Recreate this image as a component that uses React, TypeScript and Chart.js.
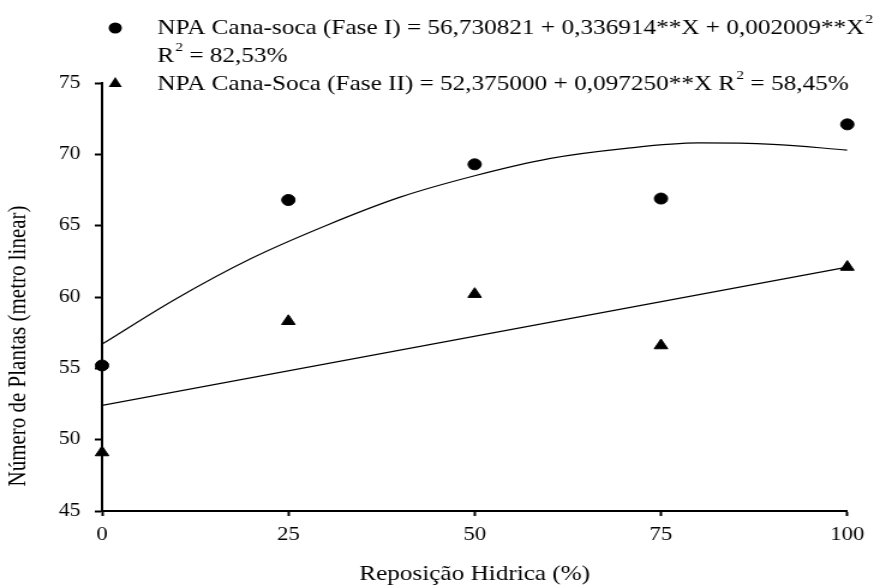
import React, { useEffect, useRef } from "react";
import { Chart, registerables } from "chart.js";

Chart.register(...registerables);

// ---- data ----
const xLevels = [0, 25, 50, 75, 100];
const faseI = [55.2, 66.8, 69.3, 66.9, 72.1];
const faseII = [49.1, 58.3, 60.2, 56.6, 62.1];
const curveX = [0, 10, 20, 30, 40, 50, 60, 70, 80, 90, 100];
const curveI = [56.7, 59.9, 62.7, 65.0, 67.0, 68.5, 69.7, 70.4, 70.8, 70.7, 70.3];
const lineX = [0, 100];
const lineII = [52.4, 62.1];
const xTicks = [0, 25, 50, 75, 100];
const yTicks = [45, 50, 55, 60, 65, 70, 75];

const legendLine1a = "NPA Cana-soca (Fase I) = 56,730821 + 0,336914**X + 0,002009**X";
const legendLine2a = "R";
const legendLine2b = " = 82,53%";
const legendLine3a = "NPA Cana-Soca (Fase II) = 52,375000 + 0,097250**X R";
const legendLine3b = " = 58,45%";
const yTitle = "Número de Plantas (metro linear)";
const xTitle = "Reposição Hidrica (%)";

const FONT = '"Liberation Serif", "Times New Roman", serif';
const PAGE_W = 874;
const PAGE_H = 587;
const CANVAS_W = 728; // drawn narrower, then stretched horizontally like the reference
const SX = PAGE_W / CANVAS_W;

const overlayPlugin = {
  id: "overlay",
  afterDraw(chart: any) {
    const ctx = chart.ctx as CanvasRenderingContext2D;
    ctx.save();
    ctx.fillStyle = "#000";
    ctx.textBaseline = "middle";
    ctx.textAlign = "left";
    const fs = 21;
    const main = `${fs}px ${FONT}`;
    const sup = `${Math.round(fs * 0.62)}px ${FONT}`;
    const tx = 131;
    const drawWithSup = (a: string, b: string, y: number) => {
      ctx.font = main;
      ctx.fillText(a, tx, y);
      const w = ctx.measureText(a).width;
      ctx.font = sup;
      ctx.fillText("2", tx + w + 1, y - 8);
      const ws = ctx.measureText("2").width;
      if (b) {
        ctx.font = main;
        ctx.fillText(b, tx + w + ws + 1, y);
      }
    };
    // legend markers
    ctx.beginPath();
    ctx.arc(96, 28, 5.5, 0, Math.PI * 2);
    ctx.fill();
    ctx.beginPath();
    ctx.moveTo(96, 77);
    ctx.lineTo(101.5, 87);
    ctx.lineTo(90.5, 87);
    ctx.closePath();
    ctx.fill();
    drawWithSup(legendLine1a, "", 28);
    drawWithSup(legendLine2a, legendLine2b, 56);
    drawWithSup(legendLine3a, legendLine3b, 84);
    // y title
    ctx.translate(15, 346);
    ctx.rotate(-Math.PI / 2);
    ctx.textAlign = "center";
    ctx.font = `21px ${FONT}`;
    ctx.fillText(yTitle, 0, 0);
    ctx.restore();
  },
};

export default function App() {
  const ref = useRef<HTMLCanvasElement>(null);
  useEffect(() => {
    if (!ref.current) return;
    const chart = new Chart(ref.current, {
      type: "scatter",
      data: {
        datasets: [
          {
            label: "Fase I curve",
            data: curveX.map((x, i) => ({ x, y: curveI[i] })),
            showLine: true,
            borderColor: "#000",
            borderWidth: 1.2,
            pointRadius: 0,
            cubicInterpolationMode: "monotone",
          } as any,
          {
            label: "Fase II line",
            data: lineX.map((x, i) => ({ x, y: lineII[i] })),
            showLine: true,
            borderColor: "#000",
            borderWidth: 1.2,
            pointRadius: 0,
          },
          {
            label: "NPA Cana-soca (Fase I)",
            data: xLevels.map((x, i) => ({ x, y: faseI[i] })),
            pointStyle: "circle",
            pointRadius: 5.5,
            backgroundColor: "#000",
            borderColor: "#000",
            clip: false,
          } as any,
          {
            label: "NPA Cana-Soca (Fase II)",
            data: xLevels.map((x, i) => ({ x, y: faseII[i] })),
            pointStyle: "triangle",
            pointRadius: 6.5,
            backgroundColor: "#000",
            borderColor: "#000",
            clip: false,
          } as any,
        ],
      },
      options: {
        animation: false,
        responsive: false,
        maintainAspectRatio: false,
        layout: { padding: { left: 0, right: 22, top: 83, bottom: 0 } },
        plugins: { legend: { display: false }, tooltip: { enabled: false } },
        scales: {
          x: {
            type: "linear",
            min: 0,
            max: 100,
            afterFit: (s: any) => {
              s.height = 76;
            },
            afterBuildTicks: (s: any) => {
              s.ticks = xTicks.map((v) => ({ value: v }));
            },
            ticks: { color: "#000", font: { family: FONT, size: 19 }, padding: 8, maxRotation: 0 },
            grid: { drawOnChartArea: false, tickLength: 5, color: "#000", tickWidth: 2 },
            border: { color: "#000", width: 2 },
            title: {
              display: true,
              text: xTitle,
              color: "#000",
              font: { family: FONT, size: 21, lineHeight: 1.2 },
              padding: { top: 0, bottom: 0 },
            },
          },
          y: {
            type: "linear",
            min: 45,
            max: 75,
            afterFit: (s: any) => {
              s.width = 85;
            },
            afterBuildTicks: (s: any) => {
              s.ticks = yTicks.map((v) => ({ value: v }));
            },
            ticks: { color: "#000", font: { family: FONT, size: 18 }, padding: 12 },
            grid: { drawOnChartArea: false, tickLength: 6, color: "#000", tickWidth: 2 },
            border: { color: "#000", width: 2 },
          },
        },
      },
      plugins: [overlayPlugin],
    } as any);
    return () => chart.destroy();
  }, []);
  return (
    <div
      style={{
        position: "absolute",
        left: 0,
        top: 0,
        width: PAGE_W,
        height: PAGE_H,
        background: "#fff",
        overflow: "hidden",
      }}
    >
      <canvas
        ref={ref}
        width={CANVAS_W}
        height={PAGE_H}
        style={{
          display: "block",
          width: CANVAS_W,
          height: PAGE_H,
          transform: `scaleX(${SX})`,
          transformOrigin: "0 0",
        }}
      />
    </div>
  );
}
